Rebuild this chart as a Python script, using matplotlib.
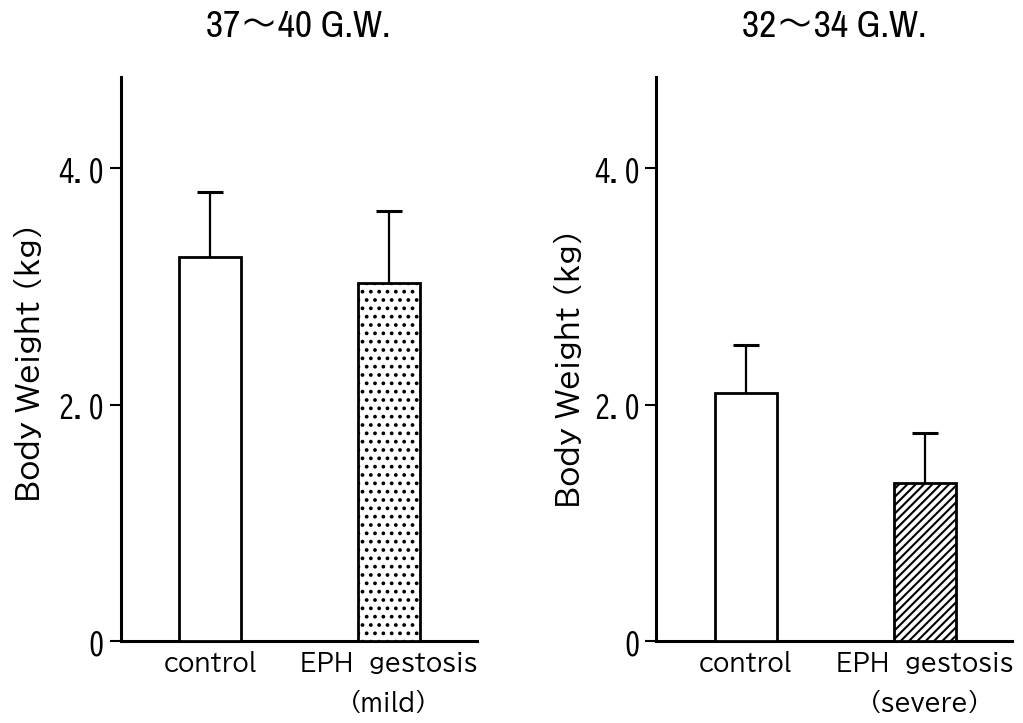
import matplotlib.pyplot as plt

# --- data ---
titles = ["37〜40 G.W.", "32〜34 G.W."]
mild_labels = ["control", "EPH  gestosis\n(mild)"]
severe_labels = ["control", "EPH  gestosis\n(severe)"]
mild_mean = [3.25, 3.03]
mild_sd = [0.55, 0.61]
severe_mean = [2.10, 1.34]
severe_sd = [0.40, 0.42]
mild_hatch = ["", ".."]
severe_hatch = ["", "////"]
yticks = [0, 2, 4]
ytick_labels = ["0", "2.0", "4.0"]

GOTHIC = ["BIZ UDPGothic", "DejaVu Sans"]
MONO = ["BIZ UDGothic", "DejaVu Sans Mono"]
TITLE = ["Archivo Narrow", "BIZ UDPGothic", "DejaVu Sans"]

plt.rcParams["hatch.linewidth"] = 1.5

fig = plt.figure(figsize=(10.23, 7.23), dpi=100, facecolor="white")

panels = [
    (0.1178, mild_labels, mild_mean, mild_sd, mild_hatch, titles[0], (-0.22, 0.492)),
    (0.6417, severe_labels, severe_mean, severe_sd, severe_hatch, titles[1], (-0.209, 0.483)),
]

for left, labels, mean, sd, hatch, title, lab_xy in panels:
    ax = fig.add_axes([left, 0.1134, 0.348, 0.78])
    x = list(range(len(labels)))
    bars = ax.bar(x, mean, width=0.346, color="white", edgecolor="black",
                  linewidth=2.0, zorder=3)
    for b, h in zip(bars, hatch):
        if h:
            b.set_hatch(h)
    ax.errorbar(x, mean, yerr=sd, fmt="none", ecolor="black", elinewidth=1.6,
                capsize=9.5, capthick=2.2, zorder=2)

    ax.set_xlim(-0.5, 1.49)
    ax.set_ylim(0, 4.77)
    ax.set_xticks(x)
    ax.set_xticklabels(labels, fontsize=17, family=GOTHIC, linespacing=1.85)
    ax.set_yticks(yticks)
    ax.set_yticklabels(ytick_labels, fontsize=22, family=MONO)
    ax.tick_params(axis="x", length=0, pad=7)
    ax.tick_params(axis="y", length=8, width=1.5, pad=4)

    for s in ["top", "right"]:
        ax.spines[s].set_visible(False)
    for s in ["left", "bottom"]:
        ax.spines[s].set_linewidth(2.2)

    ax.set_ylabel("Body Weight (kg)", fontsize=21, family=GOTHIC)
    ax.yaxis.set_label_coords(*lab_xy)
    ax.set_title(title, fontsize=27, family=TITLE, pad=29)

fig.savefig("out.png", dpi=100, facecolor="white")
